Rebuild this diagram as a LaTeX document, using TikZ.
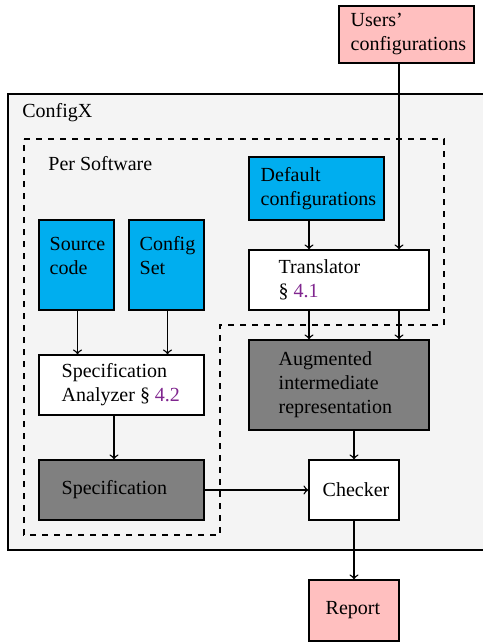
\documentclass[tikz,border=0pt]{standalone}
\usepackage{fontspec}
\setmainfont{Liberation Serif}
\usetikzlibrary{positioning}

\definecolor{userpink}{RGB}{255,191,191}
\definecolor{inputcyan}{RGB}{0,174,239}
\definecolor{datagray}{RGB}{128,128,128}
\definecolor{toolgray}{RGB}{244,244,244}
\definecolor{secpurple}{RGB}{128,38,143}

\newcommand{\secref}[1]{\S~\textcolor{secpurple}{#1}}

\tikzset{
  box/.style={draw, line width=0.7pt, inner sep=0pt},
  userbox/.style={box, fill=userpink},
  inputbox/.style={box, fill=inputcyan},
  databox/.style={box, fill=datagray},
  toolbox/.style={box, fill=white},
  txt/.style={anchor=west, align=left, inner sep=0pt, font=\normalsize},
  flow/.style={->, line width=0.7pt}
}

\begin{document}
\begin{tikzpicture}[x=0.5pt, y=-0.5pt]
  \useasboundingbox (0,0) rectangle (482,642);

  % ConfigX
  \draw[line width=0.7pt, fill=toolgray] (8,94) rectangle (490,550);
  \node[txt] (configx) at (22,113) {ConfigX};

  % per software part
  \draw[dashed, line width=0.7pt] (24,139) -- (444,139) -- (444,325)
    -- (220,325) -- (220,535) -- (24,535) -- cycle;
  \node[txt] (persw) at (48,164) {Per Software};

  % boxes
  \node[userbox, minimum width=67.5pt, minimum height=28.5pt] (users) at (406.5,34.5) {};
  \node[txt] (users-t) at ([xshift=6pt]users.west) {Users'\\configurations};

  \node[inputbox, minimum width=67.5pt, minimum height=31.5pt] (default) at (316.5,188.5) {};
  \node[txt] (default-t) at ([xshift=6pt]default.west) {Default\\configurations};

  \node[toolbox, minimum width=90pt, minimum height=30pt] (trans) at (339,280) {};
  \node[txt] (trans-t) at ([xshift=15pt]trans.west) {Translator\\\secref{4.1}};

  \node[inputbox, minimum width=37.5pt, minimum height=45pt] (src) at (76.5,265) {};
  \node[txt] (src-t) at ([xshift=5.5pt, yshift=4.5pt]src.west) {Source\\code};

  \node[inputbox, minimum width=37.5pt, minimum height=45pt] (cfgset) at (166.5,265) {};
  \node[txt] (cfgset-t) at ([xshift=5.5pt, yshift=4.5pt]cfgset.west) {Config\\Set};

  \node[toolbox, minimum width=82.5pt, minimum height=30pt] (analyzer) at (121.5,385) {};
  \node[txt] (analyzer-t) at ([xshift=11.5pt]analyzer.west) {Specification\\Analyzer \secref{4.2}};

  \node[databox, minimum width=82.5pt, minimum height=30pt] (spec) at (121.5,490) {};
  \node[txt] (spec-t) at ([xshift=11.5pt]spec.west) {Specification};

  \node[databox, minimum width=90pt, minimum height=45pt] (aug) at (339,385) {};
  \node[txt] (aug-t) at ([xshift=15pt]aug.west) {Augmented\\intermediate\\representation};

  \node[toolbox, minimum width=45pt, minimum height=30pt] (checker) at (354,490) {};
  \node[txt] (checker-t) at ([xshift=7pt]checker.west) {Checker};

  \node[userbox, minimum width=45pt, minimum height=30.5pt] (report) at (354,610.5) {};
  \node[txt] (report-t) at ([xshift=8.5pt]report.west) {Report};

  % arrows
  \coordinate (users-out) at ([xshift=-3.75pt]users.south);
  \coordinate (default-out) at ([xshift=-3.75pt]default.south);
  \coordinate (src-out) at ([xshift=0.5pt]src.south);
  \coordinate (cfgset-out) at ([xshift=0.5pt]cfgset.south);
  \draw[flow] (users-out) -- (users-out |- trans.north);
  \draw[flow] (default-out) -- (default-out |- trans.north);
  \draw[flow] (default-out |- trans.south) -- (default-out |- aug.north);
  \draw[flow] (users-out |- trans.south) -- (users-out |- aug.north);
  \draw[flow] (src-out) -- (src-out |- analyzer.north);
  \draw[flow] (cfgset-out) -- (cfgset-out |- analyzer.north);
  \draw[flow] ([xshift=-3.75pt]analyzer.south) -- ([xshift=-3.75pt]spec.north);
  \draw[flow] (checker.north |- aug.south) -- (checker.north);
  \draw[flow] (spec.east) -- (checker.west);
  \draw[flow] (checker.south) -- (report.north);
\end{tikzpicture}
\end{document}
